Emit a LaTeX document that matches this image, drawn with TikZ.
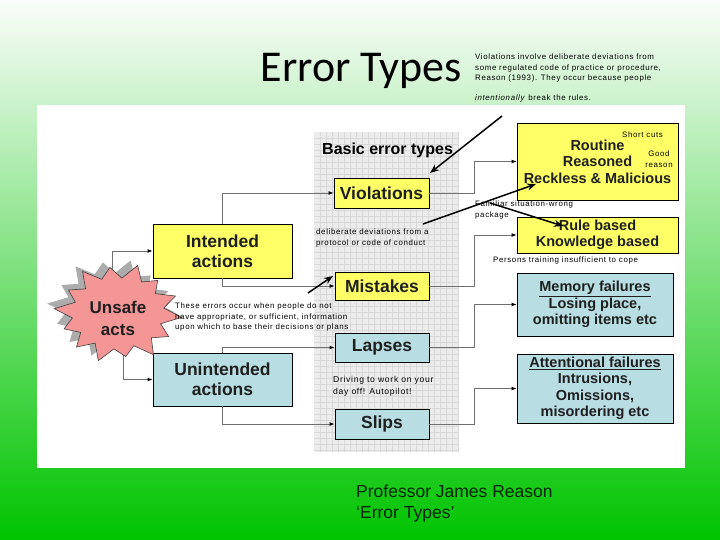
\documentclass[tikz,border=0pt]{standalone}
\usepackage{fontspec}
\setmainfont{Liberation Sans}
\newfontfamily\titlefont{Carlito}
\newfontfamily\notefont[LetterSpace=8]{Liberation Sans}
\usetikzlibrary{arrows.meta, positioning}
\definecolor{ETYellow}{RGB}{255,255,102}
\definecolor{ETBlue}{RGB}{184,221,227}
\definecolor{ETPink}{RGB}{244,150,150}
\definecolor{ETGrid}{RGB}{236,236,236}
\definecolor{ETGridLine}{RGB}{216,216,216}
\definecolor{ETLine}{RGB}{112,112,112}
\definecolor{ETTop}{RGB}{250,253,250}
\definecolor{ETMid}{RGB}{182,228,182}
\definecolor{ETBot}{RGB}{0,196,0}
\newcommand{\burstlist}{17.9/0.7, 30.7/0.92, 43.6/0.72, 56.4/1.0, 69.3/0.7, 82.1/0.88, 95/0.72, 107.9/1.0, 120.7/0.7, 133.6/0.94, 146.4/0.7, 159.3/0.9, 172.1/0.72, 185/1.0, 197.9/0.7, 210.7/0.9, 223.6/0.7, 236.4/1.0, 249.3/0.72, 262.1/0.92, 275/0.7, 287.9/1.0, 300.7/0.72, 313.6/0.9, 326.4/0.7, 339.3/0.96, 352.1/0.72}

\begin{document}
\begin{tikzpicture}[x=1pt, y=-1pt,
	box/.style={draw=black, line width=0.8pt, align=center, inner sep=0pt, text=black!88},
	ybox/.style={box, fill=ETYellow},
	bbox/.style={box, fill=ETBlue},
	big/.style={font=\bfseries\fontsize{17.5}{20}\selectfont},
	mid/.style={font=\bfseries\fontsize{14.5}{16.5}\selectfont},
	note/.style={align=left, inner sep=0pt, font=\notefont\fontsize{7.9}{10.5}\selectfont},
	conn/.style={draw=ETLine, line width=0.9pt, -{Latex[length=5pt, width=4pt, color=black]}},
	ann/.style={draw=black, line width=1.5pt, -{Stealth[length=9pt, width=7pt]}}]
	\useasboundingbox (0,0) rectangle (720,540);
	\shade[top color=ETTop, middle color=ETMid, bottom color=ETBot] (0,0) rectangle (720,540);
	\fill[white] (37,105) rectangle (685,468);
	\fill[ETGrid] (314,132) rectangle (459,452);
	\foreach \gx in {320,326,...,458}
		\draw[ETGridLine, line width=0.3pt] (\gx,132) -- (\gx,452);
	\foreach \gy in {138,144,...,450}
		\draw[ETGridLine, line width=0.3pt] (314,\gy) -- (459,\gy);

	\node[anchor=base west] (title) at (257,82) {\titlefont\fontsize{44}{50}\selectfont Error Types};
	\node[anchor=west, inner sep=0pt, font=\bfseries\fontsize{16}{18}\selectfont] (basic) at (322,150) {Basic error types};

	\node[ybox, big, minimum width=139, minimum height=54] (intended) at (222.5,251) {Intended\\actions};
	\node[bbox, big, minimum width=139, minimum height=53] (unintended) at (222.5,379.5) {Unintended\\actions};
	\node[ybox, big, minimum width=95, minimum height=30] (violations) at (381.5,193) {Violations};
	\node[ybox, big, minimum width=94, minimum height=28] (mistakes) at (382,286) {Mistakes};
	\node[bbox, big, minimum width=94, minimum height=29] (lapses) at (382,347.5) {Lapses};
	\node[bbox, big, minimum width=94, minimum height=30] (slips) at (382,424) {Slips};
	\node[ybox, mid, minimum width=161, minimum height=77] (routine) at (597.5,161.5) {Routine\\Reasoned\\Reckless \& Malicious};
	\node[ybox, mid, minimum width=161, minimum height=36] (rule) at (597.5,235) {Rule based\\Knowledge based};
	\node[bbox, mid, minimum width=156, minimum height=63] (memory) at (595,304.5) {\underline{Memory failures}\\Losing place,\\omitting items etc};
	\node[bbox, mid, minimum width=156, minimum height=69] (attention) at (595,388.5) {\underline{Attentional failures}\\Intrusions,\\Omissions,\\misordering etc};

	\coordinate (burstN) at (112,300);
	\coordinate (burstS) at (123,330);
	\draw[conn] (burstN) |- (intended.west);
	\draw[conn] (burstS) |- (unintended.west);
	\draw[conn] (intended.north) |- (violations.west);
	\draw[conn] (intended.south) |- (mistakes.west);
	\draw[conn] (unintended.north) |- (lapses.west);
	\draw[conn] (unintended.south) |- (slips.west);
	\draw[conn] (violations.east) -- ++(45,0) |- (routine.west);
	\draw[conn] (mistakes.east) -- ++(45,0) |- (rule.west);
	\draw[conn] (lapses.east) -- ++(45,0) |- (memory.west);
	\draw[conn] (slips.east) -- ++(45,0) |- (attention.west);

	\begin{scope}[shift={(111,308)}, x=64pt, y=-50pt]
		\fill[gray!65] (5:1) foreach \a/\r in \burstlist {-- (\a:\r)} -- cycle;
	\end{scope}
	\begin{scope}[shift={(118,313)}, x=64pt, y=-50pt]
		\filldraw[fill=ETPink, draw=black!75, line width=0.6pt] (5:1) foreach \a/\r in \burstlist {-- (\a:\r)} -- cycle;
	\end{scope}
	\node[align=center, inner sep=0pt, text=black!88, font=\bfseries\fontsize{17}{22}\selectfont] (unsafe) at (118,318) {Unsafe\\acts};

	\node[note, anchor=north west] (violnote) at (475,54) {Violations involve deliberate deviations from\\some regulated code of practice or procedure,\\Reason (1993). They occur because people};
	\node[note, anchor=north west] (violnote2) at (475,95) {\textit{intentionally} break the rules.};
	\node[note, anchor=north west] (shortcuts) at (622,132) {Short cuts};
	\node[note, align=center, anchor=north] (goodreason) at (659,151) {Good\\reason};
	\node[note, anchor=north west] (deliberate) at (316,229) {deliberate deviations from a\\protocol or code of conduct};
	\node[note, anchor=north west] (familiar) at (475,201) {Familiar situation-wrong\\package};
	\node[note, anchor=north west] (persons) at (493,257) {Persons training insufficient to cope};
	\node[note, anchor=north west] (these) at (175,303) {These errors occur when people do not\\have appropriate, or sufficient, information\\upon which to base their decisions or plans};
	\node[note, anchor=north west, font=\notefont\fontsize{8.6}{12}\selectfont] (driving) at (333,376) {Driving to work on your\\day off! Autopilot!};
	\node[anchor=north west, align=left, inner sep=0pt, text=black!85!green, font=\fontsize{17.5}{21}\selectfont] (reason) at (356,485) {Professor James Reason\\‘Error Types’};

	\coordinate (a1s) at (502,116);
	\coordinate (a1e) at (430,173);
	\coordinate (a2s) at (423,224);
	\coordinate (a2e) at (536,184);
	\coordinate (a3s) at (490,203);
	\coordinate (a3e) at (563,226);
	\coordinate (a4s) at (308,293);
	\coordinate (a4e) at (333,276);
	\draw[ann] (a1s) -- (a1e);
	\draw[ann] (a2s) -- (a2e);
	\draw[ann] (a3s) -- (a3e);
	\draw[ann] (a4s) -- (a4e);
\end{tikzpicture}
\end{document}
